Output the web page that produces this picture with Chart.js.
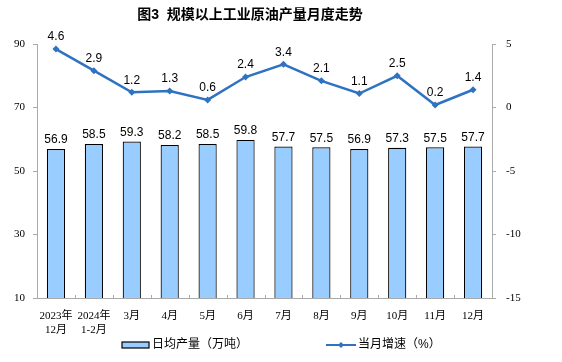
<!DOCTYPE html>
<html>
<head>
<meta charset="utf-8">
<script src="https://cdn.jsdelivr.net/npm/chart.js@4/dist/chart.umd.min.js"></script>
<style>
    body { margin: 0; background: #fff; }
    #wrap { width: 562px; height: 362px; }
</style>
</head>
<body>
<div id="wrap"><canvas id="chart" width="562" height="362"></canvas></div>
<script>
const categorias = [['2023年', '12月'], ['2024年', '1-2月'], '3月', '4月', '5月', '6月', '7月', '8月', '9月', '10月', '11月', '12月'];
const producaoDiaria = [56.9, 58.5, 59.3, 58.2, 58.5, 59.8, 57.7, 57.5, 56.9, 57.3, 57.5, 57.7];
const crescimento = [4.6, 2.9, 1.2, 1.3, 0.6, 2.4, 3.4, 2.1, 1.1, 2.5, 0.2, 1.4];
const ticksEsquerda = [10, 30, 50, 70, 90];
const ticksDireita = [-15, -10, -5, 0, 5];

const serif = '"Liberation Serif", "Noto Sans CJK SC", serif';
const sans = '"Liberation Sans", "Noto Sans CJK SC", sans-serif';
const corBarra = '#99CCFF';
const corLinha = '#2E72C0';

const rotulosPlugin = {
    id: 'rotulos',
    afterDatasetsDraw(chart) {
        const ctx = chart.ctx;
        ctx.save();
        ctx.fillStyle = '#000';
        ctx.font = '12px ' + sans;
        ctx.textAlign = 'center';
        ctx.textBaseline = 'bottom';
        chart.getDatasetMeta(0).data.forEach((bar, i) => {
            ctx.fillText(producaoDiaria[i].toFixed(1), bar.x, bar.y - 3);
        });
        chart.getDatasetMeta(1).data.forEach((pt, i) => {
            ctx.fillText(crescimento[i].toFixed(1), pt.x, pt.y - 6);
        });
        ctx.restore();
    },
    afterDraw(chart) {
        const ctx = chart.ctx;
        const x = chart.scales.x;
        const area = chart.chartArea;
        ctx.save();

        // titulo
        ctx.fillStyle = '#000';
        ctx.font = 'bold 14px ' + sans;
        ctx.textAlign = 'center';
        ctx.textBaseline = 'middle';
        ctx.fillText('图3  规模以上工业原油产量月度走势', 250, 15);

        // pequenos tracos entre categorias
        ctx.strokeStyle = '#aaa';
        ctx.lineWidth = 1;
        const passo = x.getPixelForValue(1) - x.getPixelForValue(0);
        for (let i = 1; i < categorias.length; i++) {
            const px = Math.round(x.getPixelForValue(i) - passo / 2) + 0.5;
            ctx.beginPath();
            ctx.moveTo(px, area.bottom);
            ctx.lineTo(px, area.bottom - 3);
            ctx.stroke();
        }

        // legenda
        const ly = 345;
        ctx.font = '12px ' + sans;
        ctx.textBaseline = 'middle';
        ctx.textAlign = 'left';
        ctx.fillStyle = corBarra;
        ctx.fillRect(122, ly - 3, 27, 6);
        ctx.strokeStyle = '#000';
        ctx.lineWidth = 1.2;
        ctx.strokeRect(122, ly - 3, 27, 6);
        ctx.fillStyle = '#000';
        ctx.fillText('日均产量（万吨）', 152, ly);

        ctx.strokeStyle = corLinha;
        ctx.lineWidth = 2;
        ctx.beginPath();
        ctx.moveTo(326, ly);
        ctx.lineTo(356, ly);
        ctx.stroke();
        ctx.fillStyle = corLinha;
        ctx.beginPath();
        ctx.moveTo(341, ly - 3);
        ctx.lineTo(344, ly);
        ctx.lineTo(341, ly + 3);
        ctx.lineTo(338, ly);
        ctx.closePath();
        ctx.fill();
        ctx.fillStyle = '#000';
        ctx.fillText('当月增速（%）', 358, ly);
        ctx.restore();
    }
};

new Chart(document.getElementById('chart'), {
    data: {
        labels: categorias,
        datasets: [
            {
                type: 'bar',
                label: '日均产量（万吨）',
                data: producaoDiaria,
                backgroundColor: corBarra,
                borderColor: '#000',
                borderWidth: 1.2,
                barPercentage: 0.96,
                categoryPercentage: 0.5,
                yAxisID: 'y',
                order: 2
            },
            {
                type: 'line',
                label: '当月增速（%）',
                data: crescimento,
                borderColor: corLinha,
                backgroundColor: corLinha,
                borderWidth: 2.5,
                pointStyle: 'rectRot',
                pointRadius: 3.5,
                pointBorderWidth: 0,
                tension: 0,
                yAxisID: 'y1',
                order: 1
            }
        ]
    },
    options: {
        responsive: false,
        animation: false,
        layout: { padding: { top: 44, left: 0, right: 0, bottom: 0 } },
        plugins: {
            legend: { display: false },
            tooltip: { enabled: false },
            title: { display: false }
        },
        scales: {
            x: {
                offset: true,
                grid: { display: false },
                border: { display: true, color: '#aaa' },
                ticks: {
                    color: '#000',
                    font: { size: 11, family: serif },
                    maxRotation: 0,
                    autoSkip: false,
                    padding: 4
                },
                afterFit(scale) { scale.height = 64; }
            },
            y: {
                position: 'left',
                min: 10,
                max: 90,
                afterBuildTicks(scale) { scale.ticks = ticksEsquerda.map(v => ({ value: v })); },
                grid: { drawOnChartArea: false, drawTicks: true, tickLength: 4, color: '#aaa' },
                border: { display: true, color: '#aaa' },
                ticks: { color: '#000', font: { size: 11, family: serif }, padding: 8 },
                afterFit(scale) { scale.width = 37; }
            },
            y1: {
                position: 'right',
                min: -15,
                max: 5,
                afterBuildTicks(scale) { scale.ticks = ticksDireita.map(v => ({ value: v })); },
                grid: { drawOnChartArea: false, drawTicks: true, tickLength: 4, color: '#aaa' },
                border: { display: true, color: '#aaa' },
                ticks: { color: '#000', font: { size: 11, family: serif }, padding: 10 },
                afterFit(scale) { scale.width = 70; }
            }
        }
    },
    plugins: [rotulosPlugin]
});
</script>
</body>
</html>
